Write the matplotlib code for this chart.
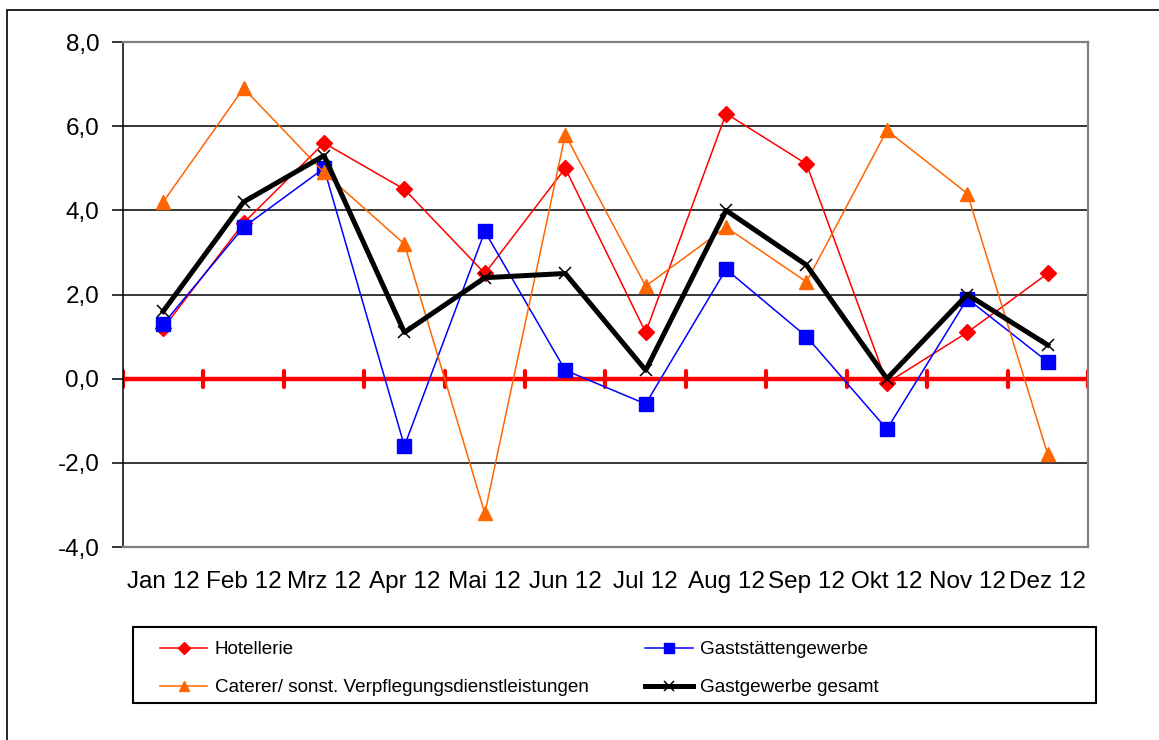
import matplotlib
matplotlib.use("Agg")
import matplotlib.pyplot as plt
import numpy as np
from matplotlib.patches import Rectangle

plt.rcParams['font.family'] = ['Liberation Sans', 'DejaVu Sans']

months = ["Jan 12", "Feb 12", "Mrz 12", "Apr 12", "Mai 12", "Jun 12",
          "Jul 12", "Aug 12", "Sep 12", "Okt 12", "Nov 12", "Dez 12"]
hotellerie = [1.2, 3.7, 5.6, 4.5, 2.5, 5.0, 1.1, 6.3, 5.1, -0.1, 1.1, 2.5]
gaststaetten = [1.3, 3.6, 5.0, -1.6, 3.5, 0.2, -0.6, 2.6, 1.0, -1.2, 1.9, 0.4]
caterer = [4.2, 6.9, 4.9, 3.2, -3.2, 5.8, 2.2, 3.6, 2.3, 5.9, 4.4, -1.8]
gesamt = [1.6, 4.2, 5.3, 1.1, 2.4, 2.5, 0.2, 4.0, 2.7, 0.0, 2.0, 0.8]
y_ticks = [-4.0, -2.0, 0.0, 2.0, 4.0, 6.0, 8.0]

x = np.arange(len(months))

fig = plt.figure(figsize=(11.59, 7.40), dpi=100)
ax = fig.add_axes([0.1061, 0.2608, 0.8326, 0.6824])

# Rahmen um das ganze Diagramm
fig.patches.append(Rectangle((7 / 1159, -0.1), 1.2, 0.9865 + 0.1, transform=fig.transFigure,
                             fill=False, edgecolor='black', lw=1.2))

# Gitternetz
for v in y_ticks:
    ax.axhline(v, color='black', lw=1.1, zorder=1)

# Nulllinie mit Teilstrichen
ax.axhline(0, color='red', lw=3.2, zorder=2)
bounds = np.arange(len(months) + 1) - 0.5
ax.vlines(bounds, -0.19, 0.19, color='red', lw=3, zorder=2, capstyle='round')

h1, = ax.plot(x, hotellerie, color='#FF0000', lw=1.1, marker='D', ms=7.8,
              label='Hotellerie', zorder=3)
h2, = ax.plot(x, gaststaetten, color='#0000FF', lw=1.1, marker='s', ms=9.5,
              label='Gaststättengewerbe', zorder=4)
h3, = ax.plot(x, caterer, color='#FF6600', lw=1.1, marker='^', ms=9.5,
              label='Caterer/ sonst. Verpflegungsdienstleistungen', zorder=5)
h4, = ax.plot(x, gesamt, color='black', lw=3.6, marker='x', ms=9, mew=1.1,
              label='Gastgewerbe gesamt', zorder=6)

ax.set_xlim(-0.5, len(months) - 0.5)
ax.set_ylim(-4.0, 8.0)
ax.set_yticks(y_ticks)
ax.set_yticklabels([f"{v:.1f}".replace('.', ',') for v in y_ticks])
ax.set_xticks(x)
ax.set_xticklabels(months)
ax.tick_params(axis='x', length=0, pad=17, labelsize=17.5)
ax.tick_params(axis='y', length=8, width=1.1, direction='out', pad=9, labelsize=17.5)

for s in ['top', 'right', 'bottom']:
    ax.spines[s].set_color('#808080')
    ax.spines[s].set_linewidth(1.6)
ax.spines['left'].set_color('black')
ax.spines['left'].set_linewidth(1.1)

# Legende zeilenweise wie im Original, Rahmen separat
handles = [h1, h3, h2, h4]
fig.legend(handles=handles, labels=[h.get_label() for h in handles],
           loc='upper left', bbox_to_anchor=(160 / 1159, (740 - 641) / 740),
           ncol=2, fontsize=13.6, frameon=False, handlelength=2.5,
           handletextpad=0.4, labelspacing=1.1, columnspacing=3.0,
           markerscale=0.75, borderpad=0, borderaxespad=0)
fig.patches.append(Rectangle((133 / 1159, 37 / 740), 963 / 1159, 76 / 740,
                             transform=fig.transFigure, fill=False,
                             edgecolor='black', lw=1.5))

fig.savefig("out.png", dpi=100)
